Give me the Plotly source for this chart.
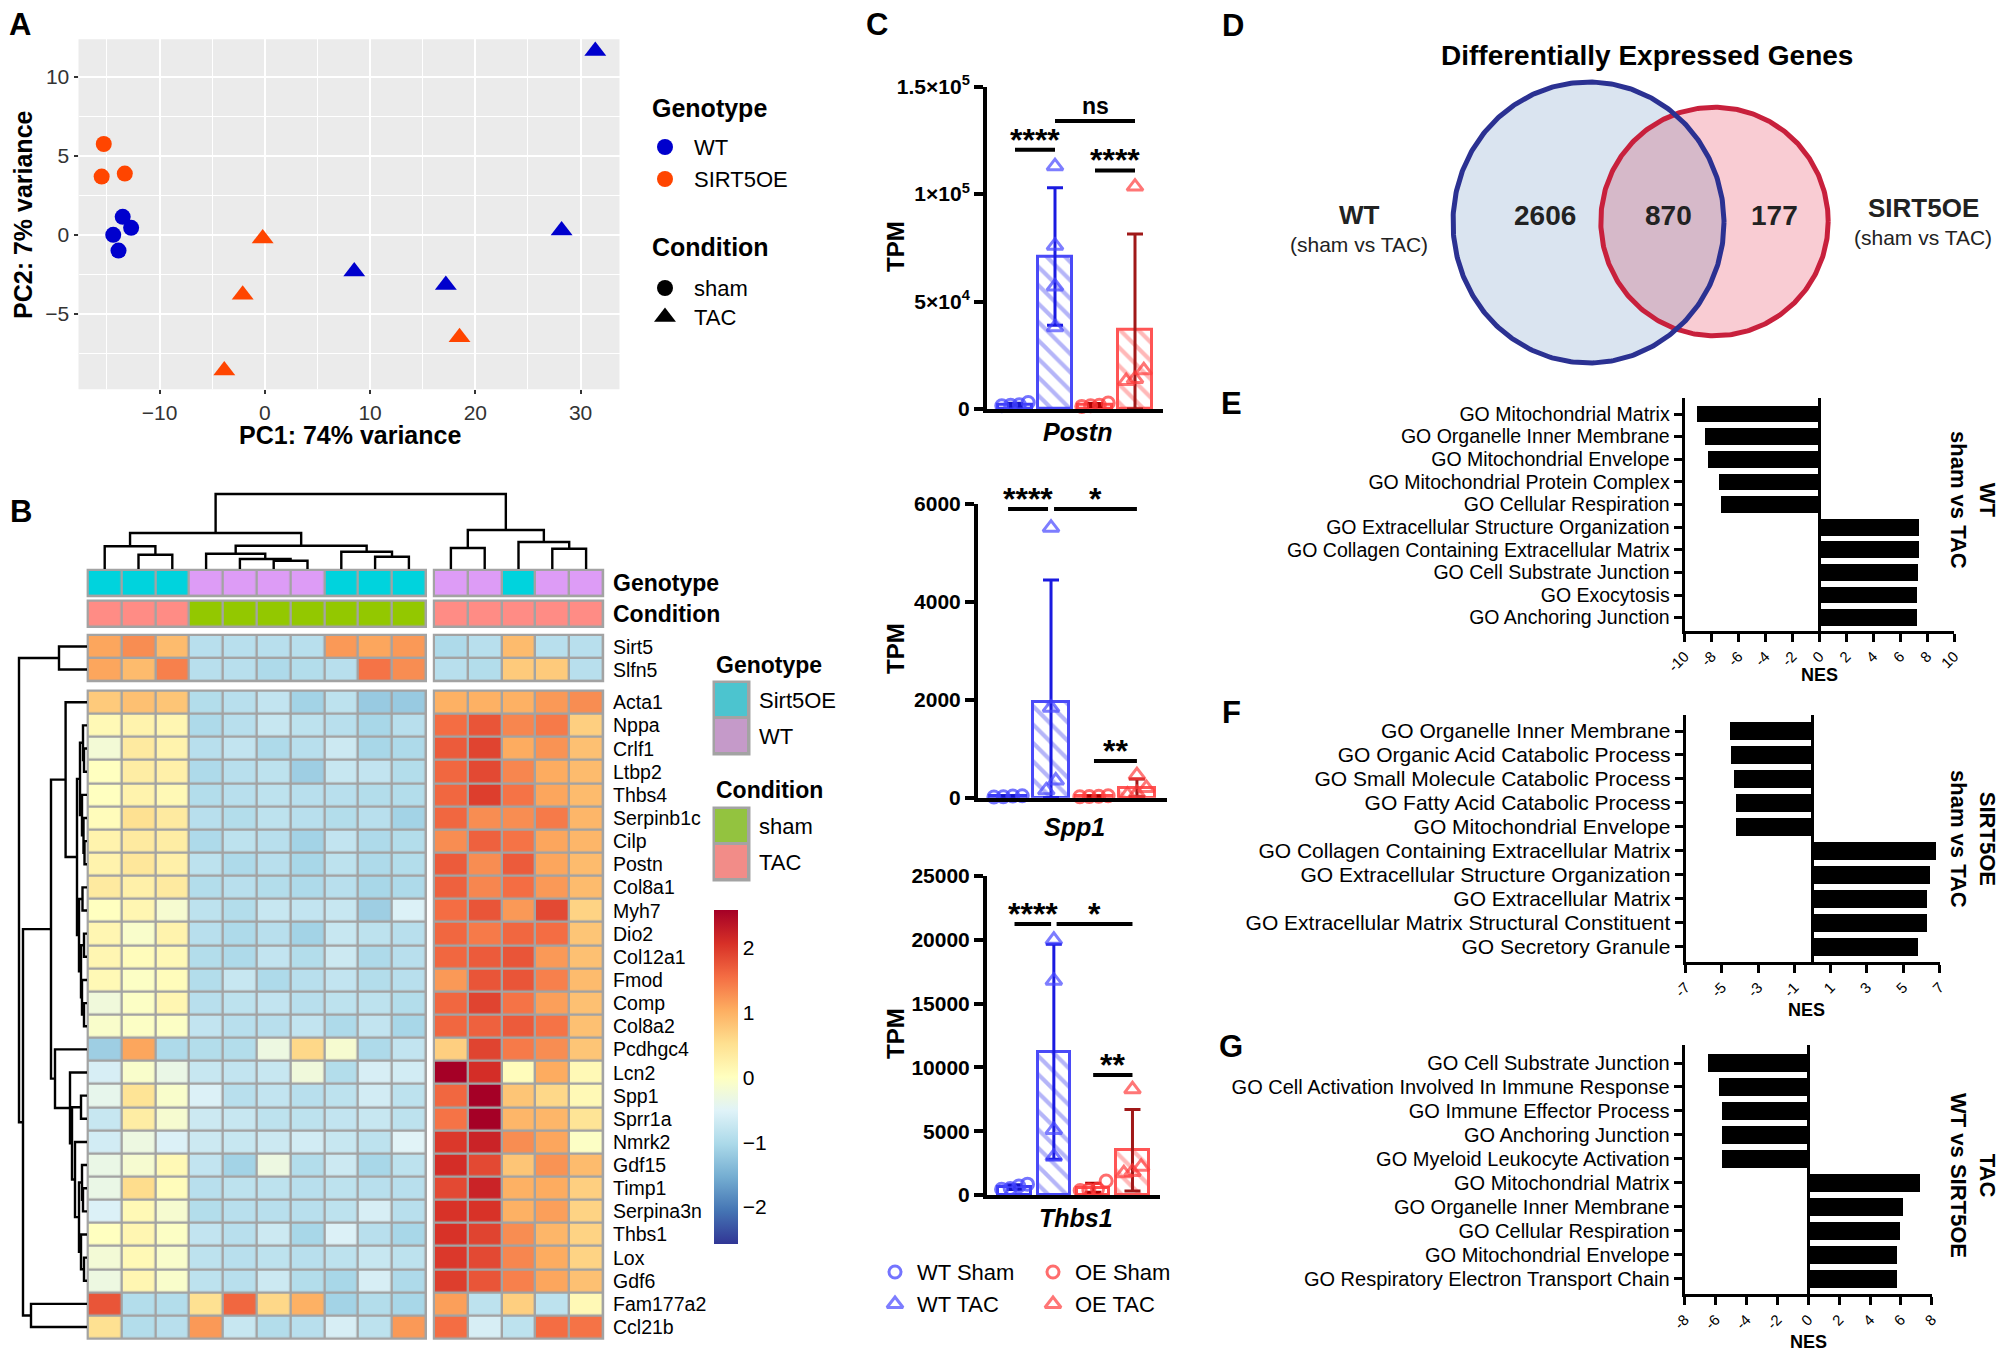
import numpy as np
import plotly.graph_objects as go

W, H = 2006, 1357          # browser window (reference) size
OFF = 8                    # page body margin in the browser
FW, FH = W - OFF, H - OFF  # figure size so that it ends at the window edge
FONT = "Liberation Sans, Arial, Helvetica, sans-serif"

# ======================= DATA =======================
# ---- Panel A: PCA ----
PCA_PC1 = [-15.3, -15.5, -13.3, -13.5, -12.7, -14.4, -13.9, 31.4, 28.2, 8.5, 17.2, -0.2, -2.1, 18.5, -3.85]
PCA_PC2 = [5.76, 3.69, 3.88, 1.14, 0.44, 0.0, -1.0, 11.65, 0.28, -2.33, -3.18, -0.23, -3.8, -6.5, -8.6]
PCA_GENOTYPE = ["SIRT5OE"] * 3 + ["WT"] * 4 + ["WT"] * 4 + ["SIRT5OE"] * 4
PCA_CONDITION = ["sham"] * 7 + ["TAC"] * 8
PCA_GENOTYPE_LEVELS = ["WT", "SIRT5OE"]
PCA_CONDITION_LEVELS = ["sham", "TAC"]
PCA_X_TICKS = [-10, 0, 10, 20, 30]
PCA_Y_TICKS = [-5, 0, 5, 10]

# ---- Panel B: heatmap ----
HM_GENES = ["Sirt5", "Slfn5", "Acta1", "Nppa", "Crlf1", "Ltbp2", "Thbs4", "Serpinb1c", "Cilp", "Postn",
            "Col8a1", "Myh7", "Dio2", "Col12a1", "Fmod", "Comp", "Col8a2", "Pcdhgc4", "Lcn2", "Spp1",
            "Sprr1a", "Nmrk2", "Gdf15", "Timp1", "Serpina3n", "Thbs1", "Lox", "Gdf6", "Fam177a2", "Ccl21b"]
HM_Z = [
    [1.1, 1.3, 0.9, -0.9, -0.9, -0.9, -0.9, 1.2, 1.1, 1.2, -1.0, -0.9, 0.9, -0.9, -0.9],
    [1.1, 0.9, 1.4, -0.9, -0.9, -1.0, -0.95, -0.9, 1.5, 1.3, -0.9, -0.95, 0.75, 0.75, -0.9],
    [0.75, 0.85, 0.8, -0.95, -0.9, -0.8, -1.1, -0.85, -1.2, -1.2, 1.0, 1.0, 1.0, 1.2, 1.3],
    [0.1, 0.2, 0.15, -1.0, -0.9, -0.75, -0.85, -0.9, -1.05, -0.9, 1.55, 1.75, 1.35, 1.45, 0.7],
    [-0.2, 0.35, 0.2, -0.9, -0.8, -1.0, -0.9, -0.7, -1.05, -1.0, 1.7, 1.9, 1.05, 1.25, 0.85],
    [0.0, 0.3, 0.25, -1.0, -0.9, -0.85, -1.15, -0.75, -0.8, -0.95, 1.6, 1.85, 1.35, 1.05, 0.9],
    [0.0, 0.2, 0.1, -0.95, -0.9, -0.85, -0.9, -0.9, -0.95, -0.95, 1.6, 1.95, 1.5, 1.1, 0.9],
    [0.05, 0.5, 0.35, -0.9, -0.95, -0.85, -0.9, -0.95, -0.9, -1.1, 1.6, 1.3, 1.3, 1.45, 0.95],
    [0.2, 0.35, 0.3, -1.0, -0.85, -0.9, -1.1, -0.8, -1.0, -0.95, 1.3, 1.65, 1.5, 1.1, 0.95],
    [0.2, 0.4, 0.25, -0.85, -1.0, -0.9, -1.05, -0.85, -1.0, -0.95, 1.7, 1.3, 1.7, 1.1, 0.9],
    [0.35, 0.25, 0.35, -0.95, -0.9, -0.95, -1.0, -0.9, -1.05, -1.0, 1.65, 1.35, 1.55, 1.2, 0.9],
    [0.0, 0.15, -0.15, -0.85, -0.95, -0.75, -0.8, -0.75, -1.15, -0.55, 1.55, 1.75, 1.2, 1.85, 0.65],
    [0.15, -0.1, 0.2, -0.9, -1.0, -0.9, -1.1, -0.75, -0.85, -0.9, 1.6, 1.45, 1.6, 1.55, 0.8],
    [0.15, 0.05, 0.1, -0.95, -1.0, -0.8, -0.95, -0.7, -1.0, -0.9, 1.6, 1.7, 1.75, 1.2, 0.85],
    [0.1, -0.05, 0.05, -0.95, -0.75, -1.0, -0.9, -0.8, -0.95, -0.9, 1.2, 1.75, 1.75, 1.4, 0.9],
    [-0.25, -0.05, 0.15, -0.9, -0.85, -0.8, -0.9, -0.85, -0.85, -0.95, 1.6, 1.9, 1.5, 1.15, 0.85],
    [-0.1, -0.05, -0.05, -0.8, -0.9, -0.9, -0.8, -1.0, -0.8, -1.05, 1.6, 1.65, 1.7, 1.5, 0.85],
    [-1.15, 1.1, -1.0, -0.95, -0.95, -0.3, 0.6, -0.15, -1.0, -0.8, 0.7, 1.9, 1.45, 1.3, 0.8],
    [-0.6, -0.1, -0.35, -0.75, -0.8, -0.75, -0.25, -0.95, -0.6, -0.65, 2.6, 2.1, 0.05, 1.05, 0.1],
    [-0.4, 0.45, -0.1, -0.55, -0.9, -0.8, -0.9, -0.85, -0.65, -0.85, 1.6, 2.6, 0.8, 0.6, 0.1],
    [-0.75, 0.3, -0.15, -0.7, -0.75, -0.85, -0.85, -0.8, -0.75, -0.85, 1.5, 2.6, 0.95, 0.95, 0.45],
    [-0.65, -0.3, -0.55, -0.7, -0.75, -0.7, -0.65, -0.75, -0.85, -0.5, 2.0, 2.2, 1.3, 1.1, -0.05],
    [-0.35, -0.15, 0.1, -0.8, -1.1, -0.3, -0.95, -0.7, -1.05, -0.85, 2.1, 1.85, 0.8, 1.25, 0.9],
    [-0.35, 0.55, 0.05, -0.9, -0.85, -0.85, -0.9, -0.85, -0.9, -0.9, 1.85, 2.2, 1.0, 1.05, 0.7],
    [-0.55, 0.1, -0.15, -0.95, -0.9, -0.9, -0.9, -0.85, -0.6, -0.9, 2.05, 2.05, 1.0, 1.15, 0.65],
    [0.0, 0.15, -0.05, -0.8, -0.9, -0.7, -1.05, -0.55, -0.9, -1.05, 2.05, 1.9, 1.3, 0.95, 0.65],
    [-0.2, 0.1, -0.1, -0.85, -0.9, -0.85, -0.9, -0.85, -0.75, -0.85, 2.0, 1.85, 1.35, 1.05, 0.65],
    [-0.3, 0.15, -0.1, -0.85, -0.9, -0.7, -0.95, -1.05, -0.6, -1.0, 1.95, 1.75, 1.4, 1.1, 0.85],
    [1.75, -0.95, -0.95, 0.5, 1.6, 0.6, 1.0, -1.1, -0.95, -1.05, 1.15, -0.85, 0.7, -0.85, 0.1],
    [0.5, -0.95, -0.9, 1.2, -0.75, -0.95, -0.9, -0.6, -0.85, 1.2, 1.55, -0.6, -0.85, 1.55, 1.5],
]
HM_COL_GENOTYPE = ["Sirt5OE"] * 3 + ["WT"] * 4 + ["Sirt5OE"] * 3 + ["WT", "WT", "Sirt5OE", "WT", "WT"]
HM_COL_CONDITION = ["TAC"] * 3 + ["sham"] * 7 + ["TAC"] * 5
HM_GENOTYPE_LEVELS = ["Sirt5OE", "WT"]
HM_CONDITION_LEVELS = ["sham", "TAC"]
HM_COL_SPLIT = 10
HM_ROW_SPLIT = 2
HM_TICKS = [-2, -1, 0, 1, 2]
# dendrograms: (merge height, left, right); leaves are indices
HM_COL_TREE = (75, (36, (22.7, 0, (14.3, 1, 2)),
                    (23.3, (15.3, 3, (10, 4, (8.3, 5, 6))), (17.3, 7, (12.3, 8, 9)))),
               (39, (21, 10, 11), (27, 12, (20.3, 13, 14))))
HM_ROW_TREE = (68, (28, 0, 1),
               (64, (36, (21.4, 2, (10, (7, (4, 3, (3, 4, 5)), (5, 6, (3.5, 7, (2.5, 8, 9)))),
                                      (8, (4.5, 10, 11), (6, (3, 12, 13), (5, 14, (3, 15, 16)))))),
                     (32, 17, (17, 18, (15, (6, 19, 20), (12, 21, (8, (5, 22, (4, 23, 24)), (6, 25, (3, 26, 27)))))))),
                (56, 28, 29)))

# ---- Panel C: TPM ----
TPM_GROUPS = ["WT Sham", "WT TAC", "OE Sham", "OE TAC"]
TPM_GENES = ["Postn", "Spp1", "Thbs1"]
TPM_POSTN = [[1800, 3000, 2000, 1500], [113000, 76000, 57000, 38000],
             [1200, 2800, 1500, 1800], [103500, 13000, 18000, 14000]]
TPM_SPP1 = [[20, 35, 15, 40], [5517, 1839, 350, 150], [25, 40, 30, 20], [460, 200, 90, 60]]
TPM_THBS1 = [[850, 500, 450, 700], [20000, 16800, 5100, 3000], [1100, 400, 350, 450], [8282, 1800, 2220, 1700]]
SIG_POSTN = [("WT Sham", "WT TAC", 120600, "****"), ("WT TAC", "OE TAC", 134000, "ns"),
             ("OE Sham", "OE TAC", 111000, "****")]
SIG_SPP1 = [("WT Sham", "WT TAC", 5900, "****"), ("WT TAC", "OE TAC", 5900, "*"),
            ("OE Sham", "OE TAC", 750, "**")]
SIG_THBS1 = [("WT Sham", "WT TAC", 21240, "****"), ("WT TAC", "OE TAC", 21240, "*"),
             ("OE Sham", "OE TAC", 9400, "**")]
TICKS_POSTN = [0, 50000, 100000, 150000]
TICKTEXT_POSTN = ["0", "5×10<sup>4</sup>", "1×10<sup>5</sup>", "1.5×10<sup>5</sup>"]
TICKS_SPP1 = [0, 2000, 4000, 6000]
TICKS_THBS1 = [0, 5000, 10000, 15000, 20000, 25000]

# ---- Panel D: Venn ----
VENN_TITLE = "Differentially Expressed Genes"
VENN_SETS = ["WT", "SIRT5OE"]
VENN_COUNTS = [2606, 870, 177]

# ---- Panels E-G: GSEA NES ----
E_TERMS = ["GO Mitochondrial Matrix", "GO Organelle Inner Membrane", "GO Mitochondrial Envelope",
           "GO Mitochondrial Protein Complex", "GO Cellular Respiration",
           "GO Extracellular Structure Organization", "GO Collagen Containing Extracellular Matrix",
           "GO Cell Substrate Junction", "GO Exocytosis", "GO Anchoring Junction"]
E_NES = [-9.1, -8.5, -8.3, -7.5, -7.3, 7.4, 7.35, 7.3, 7.2, 7.2]
E_TICKS = [-10, -8, -6, -4, -2, 0, 2, 4, 6, 8, 10]
F_TERMS = ["GO Organelle Inner Membrane", "GO Organic Acid Catabolic Process",
           "GO Small Molecule Catabolic Process", "GO Fatty Acid Catabolic Process",
           "GO Mitochondrial Envelope", "GO Collagen Containing Extracellular Matrix",
           "GO Extracellular Structure Organization", "GO Extracellular Matrix",
           "GO Extracellular Matrix Structural Constituent", "GO Secretory Granule"]
F_NES = [-4.6, -4.5, -4.35, -4.25, -4.25, 6.8, 6.45, 6.3, 6.3, 5.8]
F_TICKS = [-7, -5, -3, -1, 1, 3, 5, 7]
G_TERMS = ["GO Cell Substrate Junction", "GO Cell Activation Involved In Immune Response",
           "GO Immune Effector Process", "GO Anchoring Junction", "GO Myeloid Leukocyte Activation",
           "GO Mitochondrial Matrix", "GO Organelle Inner Membrane", "GO Cellular Respiration",
           "GO Mitochondrial Envelope", "GO Respiratory Electron Transport Chain"]
G_NES = [-6.5, -5.8, -5.6, -5.6, -5.6, 7.2, 6.1, 5.9, 5.75, 5.75]
G_TICKS = [-8, -6, -4, -2, 0, 2, 4, 6, 8]

# ======================= HELPERS =======================
# All layout positions below are page pixels of the 2006x1357 window.
def dom_x(a, b):
    return [(a - OFF) / FW, (b - OFF) / FW]


def dom_y(top, bottom):
    return [1 - (bottom - OFF) / FH, 1 - (top - OFF) / FH]


fig = go.Figure()
annotations = []
shapes = []


def text(x, y, s, size, xanchor="center", yanchor="middle", angle=0, color="black",
         xref="x2", yref="y2", yshift=0, align="center"):
    annotations.append(dict(x=x, y=y, xref=xref, yref=yref, text=s, showarrow=False,
                            font=dict(size=size, color=color, family=FONT), xanchor=xanchor,
                            yanchor=yanchor, textangle=angle, yshift=yshift, align=align))


axes = {}

# ======================= PANEL A =======================
GENO_COLORS = {"WT": "#0000CD", "SIRT5OE": "#FF4500"}
COND_SYMBOL = {"sham": "circle", "TAC": "triangle-up"}
COND_SIZE = {"sham": 16, "TAC": 19}
for g in PCA_GENOTYPE_LEVELS:
    for c in PCA_CONDITION_LEVELS:
        idx = [i for i in range(len(PCA_PC1)) if PCA_GENOTYPE[i] == g and PCA_CONDITION[i] == c]
        fig.add_trace(go.Scatter(x=[PCA_PC1[i] for i in idx], y=[PCA_PC2[i] for i in idx], mode="markers",
                                 marker=dict(color=GENO_COLORS[g], symbol=COND_SYMBOL[c], size=COND_SIZE[c],
                                             line=dict(width=0)),
                                 xaxis="x", yaxis="y", hoverinfo="skip"))


def mids(t):
    return [(t[i] + t[i + 1]) / 2 for i in range(len(t) - 1)] + [t[0] - (t[1] - t[0]) / 2, t[-1] + (t[1] - t[0]) / 2]


common_a = dict(showgrid=True, gridcolor="white", gridwidth=2.2, zeroline=False, showline=False,
                ticks="outside", ticklen=4, tickwidth=1.5, tickcolor="#333333", automargin=False,
                tickfont=dict(size=21, color="#333333", family=FONT), fixedrange=True)
axes["xaxis"] = dict(domain=dom_x(78.5, 619.5), range=[-17.7, 33.7], anchor="y", tickvals=PCA_X_TICKS,
                     minor=dict(tickmode="array", tickvals=mids(PCA_X_TICKS), showgrid=True,
                                gridcolor="white", gridwidth=1.1, ticks=""), **common_a)
axes["yaxis"] = dict(domain=dom_y(39.3, 389.3), range=[-9.8, 12.4], anchor="x", tickvals=PCA_Y_TICKS,
                     minor=dict(tickmode="array", tickvals=mids(PCA_Y_TICKS), showgrid=True,
                                gridcolor="white", gridwidth=1.1, ticks=""), **common_a)
shapes.append(dict(type="rect", xref="x domain", yref="y domain", x0=0, x1=1, y0=0, y1=1,
                   fillcolor="#EBEBEB", line=dict(width=0), layer="below"))
text(350, 435, "<b>PC1: 74% variance</b>", 25)
text(23, 215, "<b>PC2: 7% variance</b>", 25, angle=-90)

# legend A
text(650, 108, "<b>Genotype</b>", 25, xanchor="left")
for k, g in enumerate(PCA_GENOTYPE_LEVELS):
    yy = 147 + 32 * k
    fig.add_trace(go.Scatter(x=[665], y=[yy], mode="markers", marker=dict(color=GENO_COLORS[g], size=16),
                             xaxis="x2", yaxis="y2", hoverinfo="skip"))
    text(692, yy, g, 22, xanchor="left")
text(650, 247, "<b>Condition</b>", 25, xanchor="left")
for k, c in enumerate(PCA_CONDITION_LEVELS):
    yy = 288 + 29 * k
    fig.add_trace(go.Scatter(x=[665], y=[yy], mode="markers",
                             marker=dict(color="black", symbol=COND_SYMBOL[c], size=COND_SIZE[c]),
                             xaxis="x2", yaxis="y2", hoverinfo="skip"))
    text(692, yy, c, 22, xanchor="left")

# ======================= PANEL B =======================
RDYLBU = ["#313695", "#4575B4", "#74ADD1", "#ABD9E9", "#E0F3F8", "#FFFFBF",
          "#FEE090", "#FDAE61", "#F46D43", "#D73027", "#A50026"]
HM_CS = [[i / (len(RDYLBU) - 1), c] for i, c in enumerate(RDYLBU)]
ZMIN, ZMAX = -2.57, 2.58
Z = np.array(HM_Z)
ncol = Z.shape[1]
nrow = Z.shape[0]
CW = 33.8
col_blocks = [(0, HM_COL_SPLIT, 87.8), (HM_COL_SPLIT, ncol, 434.0)]
row_blocks = [(0, HM_ROW_SPLIT, 635.0, 23.0), (HM_ROW_SPLIT, nrow, 690.7, 23.14)]
GREY = "#A3A3A3"

col_centers = {}
for c0, c1, x0 in col_blocks:
    for j in range(c0, c1):
        col_centers[j] = x0 + CW * (j - c0 + 0.5)
row_centers = {}
for r0, r1, y0, rh in row_blocks:
    for i in range(r0, r1):
        row_centers[i] = y0 + rh * (i - r0 + 0.5)


def backing(x0, x1, y0, y1, pad=1.2):
    shapes.append(dict(type="rect", xref="x2", yref="y2", x0=x0 - pad, x1=x1 + pad, y0=y0 - pad, y1=y1 + pad,
                       fillcolor=GREY, line=dict(width=0), layer="below"))


first = True
for r0, r1, y0, rh in row_blocks:
    ye = [y0 + rh * k for k in range(r1 - r0 + 1)]
    for c0, c1, x0 in col_blocks:
        xe = [x0 + CW * k for k in range(c1 - c0 + 1)]
        backing(xe[0], xe[-1], ye[0], ye[-1])
        fig.add_trace(go.Heatmap(
            z=Z[r0:r1, c0:c1], x=xe, y=ye, colorscale=HM_CS, zmin=ZMIN, zmax=ZMAX, xgap=2.4, ygap=2.4,
            showscale=first, hoverinfo="skip", xaxis="x2", yaxis="y2",
            colorbar=dict(x=(714 - OFF) / FW, xanchor="left", y=1 - (1244 - OFF) / FH, yanchor="bottom",
                          len=(1244 - 910) / FH, lenmode="fraction", thickness=24, thicknessmode="pixels",
                          outlinewidth=0, xpad=0, ypad=0, tickvals=HM_TICKS, ticks="",
                          tickfont=dict(size=21, family=FONT, color="black"))))
        first = False

# annotation rows
ANN_GENO_COLORS = ["#00D3DD", "#DD9CF6"]
ANN_COND_COLORS = ["#93C800", "#FF8C85"]


def disc_cs(c_a, c_b):
    return [[0, c_a], [0.5, c_a], [0.5, c_b], [1, c_b]]


ann_rows = [(HM_COL_GENOTYPE, HM_GENOTYPE_LEVELS, ANN_GENO_COLORS, 570.0, 596.0, "Genotype"),
            (HM_COL_CONDITION, HM_CONDITION_LEVELS, ANN_COND_COLORS, 600.7, 626.7, "Condition")]
for vals, levels, cols, ya, yb, lab in ann_rows:
    for c0, c1, x0 in col_blocks:
        xe = [x0 + CW * k for k in range(c1 - c0 + 1)]
        codes = [[levels.index(v) for v in vals[c0:c1]]]
        backing(xe[0], xe[-1], ya, yb)
        fig.add_trace(go.Heatmap(z=codes, x=xe, y=[ya, yb], colorscale=disc_cs(*cols), zmin=0, zmax=1,
                                 xgap=2.4, ygap=2.4, showscale=False, hoverinfo="skip",
                                 xaxis="x2", yaxis="y2"))
    text(611, (ya + yb) / 2, "<b>%s</b>" % lab, 23, xanchor="left")

for i, gname in enumerate(HM_GENES):
    text(611, row_centers[i], gname, 19.5, xanchor="left")


def dendro(tree, leaf_pos):
    ps, hs = [], []

    def rec(node):
        if isinstance(node, int):
            return leaf_pos[node], 0.0
        h, l, r = node
        pl, hl = rec(l)
        pr, hr = rec(r)
        ps.extend([pl, pl, pr, pr, None])
        hs.extend([hl, h, h, hr, None])
        return (pl + pr) / 2, h

    rec(tree)
    return ps, hs


cp, ch = dendro(HM_COL_TREE, col_centers)
fig.add_trace(go.Scatter(x=cp, y=[None if v is None else 569 - v for v in ch], mode="lines",
                         line=dict(color="black", width=2.4), xaxis="x2", yaxis="y2", hoverinfo="skip"))
rp, rh_ = dendro(HM_ROW_TREE, row_centers)
fig.add_trace(go.Scatter(y=rp, x=[None if v is None else 87 - v for v in rh_], mode="lines",
                         line=dict(color="black", width=2.4), xaxis="x2", yaxis="y2", hoverinfo="skip"))

# legend B
LEG_GENO_COLORS = ["#4CC4CF", "#C59AC9"]
LEG_COND_COLORS = ["#93C33F", "#F28C88"]
for levels, cols, title, ytitle, ytop in [(HM_GENOTYPE_LEVELS, LEG_GENO_COLORS, "Genotype", 665, 682),
                                          (HM_CONDITION_LEVELS, LEG_COND_COLORS, "Condition", 790, 808)]:
    text(714, ytitle, "<b>%s</b>" % title, 23, xanchor="left")
    ye = [ytop + 36 * k for k in range(len(levels) + 1)]
    backing(714, 749, ye[0], ye[-1], pad=1.5)
    fig.add_trace(go.Heatmap(z=[[k] for k in range(len(levels))], x=[714, 749], y=ye,
                             colorscale=disc_cs(*cols), zmin=0, zmax=1, xgap=3, ygap=3, showscale=False,
                             hoverinfo="skip", xaxis="x2", yaxis="y2"))
    for k, lv in enumerate(levels):
        text(757, (ye[k] + ye[k + 1]) / 2, lv, 22, xanchor="left")

# ======================= PANEL C =======================
GROUP_STYLE = {
    "WT Sham": dict(line="#3D3DF5", hatch=None, pt="rgba(70,70,255,0.75)", err="#1414C8", sym="circle-open", size=12),
    "WT TAC": dict(line="#4A4AF7", hatch="#B5B5F8", pt="rgba(70,70,255,0.7)", err="#1A1AE0", sym="triangle-up-open", size=14),
    "OE Sham": dict(line="#FF4D4D", hatch=None, pt="rgba(255,60,60,0.75)", err="#B00000", sym="circle-open", size=12),
    "OE TAC": dict(line="#FF5555", hatch="#FFB8B8", pt="rgba(255,60,60,0.7)", err="#A01818", sym="triangle-up-open", size=14),
}
C_PANELS = [
    dict(gene="Postn", data=TPM_POSTN, sig=SIG_POSTN, ticks=TICKS_POSTN, ticktext=TICKTEXT_POSTN,
         xa="x3", ya="y3", dx=(987, 1163), dy=(86.7, 409), tpm_y=247, name_y=432),
    dict(gene="Spp1", data=TPM_SPP1, sig=SIG_SPP1, ticks=TICKS_SPP1, ticktext=[str(t) for t in TICKS_SPP1],
         xa="x4", ya="y4", dx=(978, 1167), dy=(504, 797.7), tpm_y=649, name_y=827),
    dict(gene="Thbs1", data=TPM_THBS1, sig=SIG_THBS1, ticks=TICKS_THBS1, ticktext=[str(t) for t in TICKS_THBS1],
         xa="x5", ya="y5", dx=(987, 1160), dy=(876, 1195), tpm_y=1034, name_y=1218),
]


def swarm(vals, yspan):
    order = np.argsort(vals)
    offs = np.zeros(len(vals))
    groups = []
    for i in order:
        if groups and abs(vals[i] - vals[groups[-1][0]]) < 0.035 * yspan:
            groups[-1].append(i)
        else:
            groups.append([i])
    for gidx in groups:
        n = len(gidx)
        for k, i in enumerate(gidx):
            offs[i] = (k - (n - 1) / 2) * 0.22
    return offs


for p in C_PANELS:
    xa, ya = p["xa"], p["ya"]
    ymax = p["ticks"][-1]
    for gi, grp in enumerate(TPM_GROUPS):
        st = GROUP_STYLE[grp]
        vals = np.array(p["data"][gi], dtype=float)
        mean = vals.mean()
        sd = vals.std(ddof=1)
        pattern = dict(shape="\\", fgcolor=st["hatch"], bgcolor="white", size=13, solidity=0.32) \
            if st["hatch"] else dict(shape="")
        fig.add_trace(go.Bar(x=[gi], y=[mean], width=0.83, xaxis=xa, yaxis=ya, hoverinfo="skip",
                             marker=dict(color="white", line=dict(color=st["line"], width=3), pattern=pattern),
                             error_y=dict(type="data", symmetric=False, array=[sd], arrayminus=[min(sd, mean)],
                                          color=st["err"], thickness=3, width=8)))
    for gi, grp in enumerate(TPM_GROUPS):
        st = GROUP_STYLE[grp]
        vals = np.array(p["data"][gi], dtype=float)
        offs = swarm(vals, ymax)
        fig.add_trace(go.Scatter(x=gi + offs, y=vals, mode="markers", xaxis=xa, yaxis=ya, cliponaxis=False,
                                 hoverinfo="skip",
                                 marker=dict(symbol=st["sym"], size=st["size"], color=st["pt"],
                                             line=dict(width=3, color=st["pt"]))))
    xn = xa.replace("x", "xaxis")
    yn = ya.replace("y", "yaxis")
    axes[xn] = dict(domain=dom_x(*p["dx"]), range=[-0.7, 3.7], anchor=ya, showline=True, linewidth=4,
                    linecolor="black", showticklabels=False, ticks="", showgrid=False, zeroline=False,
                    fixedrange=True, automargin=False)
    axes[yn] = dict(domain=dom_y(*p["dy"]), range=[0, ymax], anchor=xa, showline=True, linewidth=4,
                    linecolor="black", tickvals=p["ticks"], ticktext=["<b>%s</b>" % t for t in p["ticktext"]],
                    ticks="outside", ticklen=9, tickwidth=4, tickcolor="black", showgrid=False,
                    zeroline=False, tickfont=dict(size=21, family=FONT, color="black"), fixedrange=True,
                    automargin=False)
    # significance brackets
    for (g0, g1, yv, lab) in p["sig"]:
        a, b = TPM_GROUPS.index(g0), TPM_GROUPS.index(g1)
        a0, b0 = a, b
        for (h0, h1, yv2, _) in p["sig"]:
            if yv2 == yv and (h0, h1) != (g0, g1):
                j0, j1 = TPM_GROUPS.index(h0), TPM_GROUPS.index(h1)
                if j1 == a0:
                    a += 0.07
                if j0 == b0:
                    b -= 0.07
        shapes.append(dict(type="line", xref=xa, yref=ya, x0=a, x1=b, y0=yv, y1=yv,
                           line=dict(color="black", width=4)))
        if "*" in lab:
            annotations.append(dict(x=(a + b) / 2, y=yv, xref=xa, yref=ya, text="<b>%s</b>" % lab,
                                    showarrow=False, font=dict(size=32, family=FONT, color="black"),
                                    xanchor="center", yanchor="bottom", yshift=-10))
        else:
            annotations.append(dict(x=(a + b) / 2, y=yv, xref=xa, yref=ya, text="<b>%s</b>" % lab,
                                    showarrow=False, font=dict(size=23, family=FONT, color="black"),
                                    xanchor="center", yanchor="bottom", yshift=0))
    text(895, p["tpm_y"], "<b>TPM</b>", 24, angle=-90)
    text((p["dx"][0] + p["dx"][1]) / 2 + 2, p["name_y"], "<b><i>%s</i></b>" % p["gene"], 25)

# legend C
for k, grp in enumerate(TPM_GROUPS):
    st = GROUP_STYLE[grp]
    colx = 895 if grp.startswith("WT") else 1053
    rowy = 1272 if grp.endswith("Sham") else 1304
    fig.add_trace(go.Scatter(x=[colx], y=[rowy], mode="markers", xaxis="x2", yaxis="y2", hoverinfo="skip",
                             marker=dict(symbol=st["sym"], size=st["size"], color=st["pt"],
                                         line=dict(width=3, color=st["pt"]))))
    text(colx + 20, rowy, grp, 22, xanchor="left")

# ======================= PANEL D =======================
def ellipse(cx, cy, rx, ry, t):
    return cx + rx * np.cos(t), cy + ry * np.sin(t)


BLUE_E = (1588.5, 222.5, 135.5, 140.5)
RED_E = (1714.5, 221.5, 113.7, 114.3)
tt = np.linspace(0, 2 * np.pi, 400)
bx, by = ellipse(*BLUE_E, tt)
rx_, ry_ = ellipse(*RED_E, tt)


def inside(x, y, e):
    cx, cy, a, b = e
    return ((x - cx) / a) ** 2 + ((y - cy) / b) ** 2 <= 1


fig.add_trace(go.Scatter(x=bx, y=by, fill="toself", fillcolor="#DAE4F0", mode="lines", line=dict(width=0),
                         xaxis="x2", yaxis="y2", hoverinfo="skip"))
fig.add_trace(go.Scatter(x=rx_, y=ry_, fill="toself", fillcolor="#F9CCD3", mode="lines", line=dict(width=0),
                         xaxis="x2", yaxis="y2", hoverinfo="skip"))
t_red = np.linspace(0, 2 * np.pi, 800)
t_blue = np.linspace(-np.pi, np.pi, 800)
rxa, rya = ellipse(*RED_E, t_red)
m1 = inside(rxa, rya, BLUE_E)
bxa, bya = ellipse(*BLUE_E, t_blue)
m2 = inside(bxa, bya, RED_E)
lx = np.concatenate([rxa[m1], bxa[m2]])
ly = np.concatenate([rya[m1], bya[m2]])
fig.add_trace(go.Scatter(x=lx, y=ly, fill="toself", fillcolor="#D6B9C9", mode="lines", line=dict(width=0),
                         xaxis="x2", yaxis="y2", hoverinfo="skip"))
fig.add_trace(go.Scatter(x=rx_, y=ry_, mode="lines", line=dict(color="#C8203C", width=5),
                         xaxis="x2", yaxis="y2", hoverinfo="skip"))
fig.add_trace(go.Scatter(x=bx, y=by, mode="lines", line=dict(color="#2B3192", width=5),
                         xaxis="x2", yaxis="y2", hoverinfo="skip"))
text(1647, 55, "<b>%s</b>" % VENN_TITLE, 28)
for xx, cnt in zip([1545, 1668, 1774], VENN_COUNTS):
    text(xx, 215, "<b>%d</b>" % cnt, 28, color="#222222")
text(1359, 215, "<b>%s</b>" % VENN_SETS[0], 26, color="#222222")
text(1359, 244, "(sham vs TAC)", 21, color="#222222")
text(1923, 208, "<b>%s</b>" % VENN_SETS[1], 26, color="#222222")
text(1923, 237, "(sham vs TAC)", 21, color="#222222")

# ======================= PANELS E-G =======================
GSEA = [
    dict(terms=E_TERMS, nes=E_NES, ticks=E_TICKS, rng=[-10, 10], xa="x6", ya="y6", dx=(1684.6, 1954),
         top=398, bottom=630.7, first=414, step=22.63, font=19.5,
         title="<b>WT<br>sham vs TAC</b>", title_y=500, nes_x=1819, nes_y=675),
    dict(terms=F_TERMS, nes=F_NES, ticks=F_TICKS, rng=[-7, 7], xa="x7", ya="y7", dx=(1685.6, 1939.5),
         top=715, bottom=961.7, first=731, step=23.97, font=21,
         title="<b>SIRT5OE<br>sham vs TAC</b>", title_y=839, nes_x=1806, nes_y=1010),
    dict(terms=G_TERMS, nes=G_NES, ticks=G_TICKS, rng=[-8, 8], xa="x8", ya="y8", dx=(1684.6, 1931.8),
         top=1045, bottom=1294, first=1063, step=23.97, font=20,
         title="<b>TAC<br>WT vs SIRT5OE</b>", title_y=1175, nes_x=1808, nes_y=1342),
]
for p in GSEA:
    xa, ya = p["xa"], p["ya"]
    fig.add_trace(go.Bar(x=p["nes"], y=p["terms"], orientation="h", width=0.74, xaxis=xa, yaxis=ya,
                         marker=dict(color="black", line=dict(width=0)), hoverinfo="skip"))
    n = len(p["terms"])
    last = p["first"] + (n - 1) * p["step"]
    yr = [n - 1 + (p["bottom"] - last) / p["step"], -(p["first"] - p["top"]) / p["step"]]
    xn = xa.replace("x", "xaxis")
    yn = ya.replace("y", "yaxis")
    axes[xn] = dict(domain=dom_x(*p["dx"]), range=p["rng"], anchor=ya, tickmode="array", tickvals=p["ticks"],
                    ticktext=[str(t) for t in p["ticks"]], tickangle=-45, ticks="outside", ticklen=8,
                    tickwidth=2.5, tickcolor="black", showline=True, linewidth=3, linecolor="black",
                    zeroline=True, zerolinewidth=3, zerolinecolor="black", showgrid=False, automargin=False,
                    tickfont=dict(size=15, family=FONT, color="black"), fixedrange=True)
    axes[yn] = dict(domain=dom_y(p["top"], p["bottom"]), range=yr, anchor=xa, type="category",
                    categoryorder="array", categoryarray=p["terms"], tickmode="array", tickvals=p["terms"],
                    ticktext=p["terms"], ticks="outside", ticklen=8, automargin=False,
                    tickwidth=3, tickcolor="black", showline=True, linewidth=3, linecolor="black",
                    showgrid=False, zeroline=False, tickfont=dict(size=p["font"], family=FONT, color="black"),
                    fixedrange=True)
    text(p["nes_x"], p["nes_y"], "<b>NES</b>", 18)
    text(1973, p["title_y"], p["title"], 22, angle=90)

# ======================= PANEL LETTERS =======================
for lab, (xx, yy) in zip("ABCDEFG", [(20, 24), (21, 511), (877, 24), (1233, 25), (1231, 403), (1231, 712), (1231, 1046)]):
    text(xx, yy, "<b>%s</b>" % lab, 31)

# ======================= LAYOUT =======================
axes["xaxis2"] = dict(domain=[0, 1], range=[OFF, W], anchor="y2", visible=False, fixedrange=True, automargin=False)
axes["yaxis2"] = dict(domain=[0, 1], range=[H, OFF], anchor="x2", visible=False, fixedrange=True, automargin=False)

fig.update_layout(template="none", width=FW, height=FH, margin=dict(l=0, r=0, t=0, b=0, pad=0),
                  paper_bgcolor="white", plot_bgcolor="rgba(0,0,0,0)", showlegend=False, bargap=0,
                  font=dict(family=FONT, color="black"), annotations=annotations, shapes=shapes, **axes)
fig.write_html("out.html")
